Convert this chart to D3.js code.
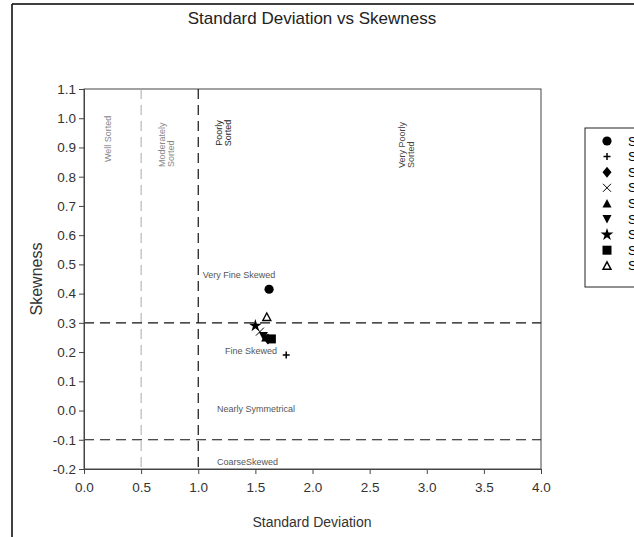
<!DOCTYPE html>
<html><head><meta charset="utf-8">
<script src="https://cdn.jsdelivr.net/npm/d3@7/dist/d3.min.js"></script>
<style>
body{margin:0;background:#fff;}
svg{display:block;font-family:"Liberation Sans",Arial,sans-serif;}
</style></head><body>
<svg id="c" width="634" height="537"></svg>
<script>
const samples = ["S1","S2","S3","S4","S5","S6","S7","S8","S9"];
const symbolsUsed = ["circle","plus","diamond","cross","triangle","triangleDown","star","square","triangleOpen"];
const stdDev = [1.62, 1.77, 1.61, 1.54, 1.59, 1.57, 1.50, 1.64, 1.60];
const skewness = [0.415, 0.19, 0.245, 0.27, 0.25, 0.255, 0.29, 0.245, 0.32];
const xTicks = [0.0,0.5,1.0,1.5,2.0,2.5,3.0,3.5,4.0];
const yTicks = [-0.2,-0.1,0.0,0.1,0.2,0.3,0.4,0.5,0.6,0.7,0.8,0.9,1.0,1.1];
const sortingLines = [0.5, 1.0];
const skewLines = [0.3, -0.1];

const svg = d3.select("#c");
const x = d3.scaleLinear().domain([0,4]).range([84,541]);
const y = d3.scaleLinear().domain([-0.2,1.1]).range([469,89]);
const fmt = v => d3.format(".1f")(v).replace("\u2212","-");

// outer frame
svg.append("line").attr("x1",12).attr("x2",12).attr("y1",4).attr("y2",537).attr("stroke","#000").attr("stroke-width",1.5);
svg.append("line").attr("x1",12).attr("x2",634).attr("y1",4).attr("y2",4).attr("stroke","#000").attr("stroke-width",1.5);

svg.append("text").attr("x",312).attr("y",24).attr("text-anchor","middle").attr("font-size",17).attr("fill","#222").text("Standard Deviation vs Skewness");

// plot frame
svg.append("rect").attr("x",x(0)).attr("y",y(1.1)).attr("width",x(4)-x(0)).attr("height",y(-0.2)-y(1.1)).attr("fill","none").attr("stroke","#444").attr("stroke-width",1);

// reference lines
svg.append("line").attr("x1",x(sortingLines[0])).attr("x2",x(sortingLines[0])).attr("y1",y(1.1)).attr("y2",y(-0.2)).attr("stroke","#aaa").attr("stroke-dasharray","10,6");
svg.append("line").attr("x1",x(sortingLines[1])).attr("x2",x(sortingLines[1])).attr("y1",y(1.1)).attr("y2",y(-0.2)).attr("stroke","#111").attr("stroke-width",1.2).attr("stroke-dasharray","10,6");
skewLines.forEach(v=>{
  svg.append("line").attr("x1",x(0)).attr("x2",x(4)).attr("y1",y(v)).attr("y2",y(v)).attr("stroke","#111").attr("stroke-width",1.2).attr("stroke-dasharray","10,6");
});

// axes
const xa = svg.append("g").attr("transform",`translate(0,${y(-0.2)})`).call(d3.axisBottom(x).tickValues(xTicks).tickFormat(fmt).tickSize(5).tickPadding(8));
const ya = svg.append("g").attr("transform",`translate(${x(0)},0)`).call(d3.axisLeft(y).tickValues(yTicks).tickFormat(fmt).tickSize(5).tickPadding(3));
[xa,ya].forEach(a=>{a.select(".domain").attr("stroke","#444");a.selectAll(".tick line").attr("stroke","#444");a.selectAll("text").attr("font-size",13.5).attr("fill","#333").attr("font-family","Liberation Sans, Arial, sans-serif");});

svg.append("text").attr("x",312).attr("y",527).attr("text-anchor","middle").attr("font-size",14).attr("fill","#333").text("Standard Deviation");
svg.append("text").attr("transform","translate(42,279) rotate(-90)").attr("text-anchor","middle").attr("font-size",16).attr("fill","#333").text("Skewness");

// region labels (rotated)
function vlab(cx, cy, lines, col, anchor){
  const t = svg.append("text").attr("transform",`translate(${cx},${cy}) rotate(-90)`).attr("text-anchor",anchor).attr("font-size",9).attr("fill",col);
  lines.forEach((l,i)=>t.append("tspan").attr("x",0).attr("dy", i===0 ? (-(lines.length-1)*4.5+3) : 9).text(l));
}
vlab(108,162,["Well Sorted"],"#888","start");
vlab(166,167,["Moderately","Sorted"],"#888","start");
vlab(223,133,["Poorly","Sorted"],"#222","middle");
vlab(406,168,["Very Poorly","Sorted"],"#444","start");
function hlab(xv, yv, s){ svg.append("text").attr("x",x(xv)).attr("y",y(yv)).attr("font-size",9).attr("fill","#555").text(s); }
hlab(1.04,0.455,"Very Fine Skewed");
hlab(1.235,0.195,"Fine Skewed");
hlab(1.165,-0.005,"Nearly Symmetrical");
hlab(1.165,-0.185,"CoarseSkewed");

// symbols
function sym(g, kind){
  if(kind==="circle") g.append("circle").attr("r",4.6).attr("fill","#000");
  else if(kind==="plus") g.append("path").attr("d","M-3.5,0H3.5M0,-3.5V3.5").attr("stroke","#000").attr("stroke-width",1.5);
  else if(kind==="cross") g.append("path").attr("d","M-4,-4L4,4M-4,4L4,-4").attr("stroke","#000").attr("stroke-width",1);
  else if(kind==="diamond") g.append("path").attr("d","M0,-5.5L4.5,0L0,5.5L-4.5,0Z").attr("fill","#000");
  else if(kind==="triangle") g.append("path").attr("d","M0,-4.5L4.5,4L-4.5,4Z").attr("fill","#000");
  else if(kind==="triangleDown") g.append("path").attr("d","M0,4.5L4.5,-4L-4.5,-4Z").attr("fill","#000");
  else if(kind==="triangleOpen") g.append("path").attr("d","M0,-4L4,3.5L-4,3.5Z").attr("fill","#fff").attr("stroke","#000").attr("stroke-width",1.4);
  else if(kind==="square") g.append("rect").attr("x",-4.5).attr("y",-4.5).attr("width",9).attr("height",9).attr("fill","#000");
  else if(kind==="star") g.append("path").attr("d",d3.symbol(d3.symbolStar,50)()).attr("fill","#000");
}
const pts = samples.map((s,i)=>({s, k:symbolsUsed[i], x:stdDev[i], y:skewness[i]}));
svg.append("g").selectAll("g").data(pts).join("g").attr("transform",d=>`translate(${x(d.x)},${y(d.y)})`).each(function(d){sym(d3.select(this),d.k);});

// legend
svg.append("rect").attr("x",585).attr("y",128).attr("width",80).attr("height",159).attr("fill","#fff").attr("stroke","#222");
const lg = svg.append("g").selectAll("g").data(pts).join("g").attr("transform",(d,i)=>`translate(607,${141+i*15.6})`);
lg.each(function(d){sym(d3.select(this),d.k);});
lg.append("text").attr("x",21).attr("y",4.5).attr("font-size",13).attr("fill","#000").text(d=>d.s);
</script></body></html>
